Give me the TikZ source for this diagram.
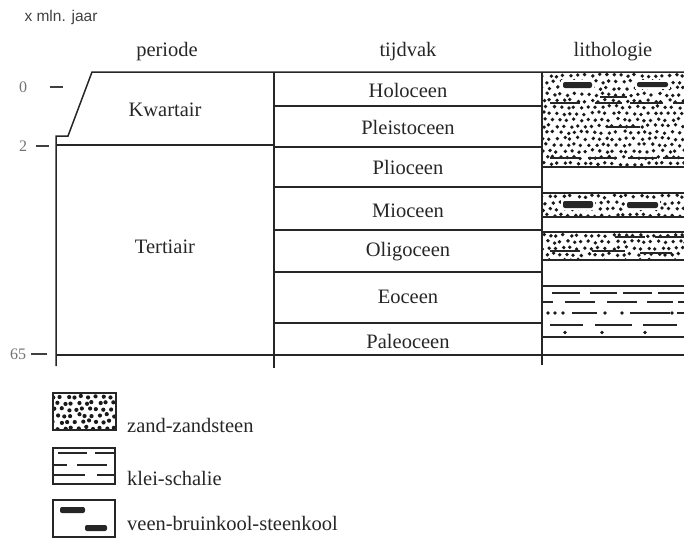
\documentclass[tikz,border=0pt]{standalone}
\usepackage{fontspec}
\setmainfont{Liberation Serif}
\newfontfamily\labelsans{Liberation Sans}
\begin{document}
\begin{tikzpicture}[x=1pt,y=-1pt,
  frame/.style={line width=1.5pt,draw=black!85},
  thin frame/.style={line width=1.3pt,draw=black!85},
  word/.style={inner sep=0pt,font=\fontsize{20.5}{24}\selectfont,text=black!85},
  age/.style={inner sep=0pt,font=\fontsize{16}{19}\selectfont,text=black!55},
  agetick/.style={line width=1.4pt,draw=black!75},
  dash line/.style={line width=1.6pt,draw=black!85},
  coal/.style={fill=black!85,rounded corners=2pt},
  grain/.style={fill=black!90}]
\useasboundingbox (0,0) rectangle (684,541);

% ---- sand pattern: jittered dots clipped to a box ----
\pgfmathsetseed{1701}
\newcommand\sanddots[5]{% x1 y1 x2 y2 radius
  \begin{scope}
    \clip (#1,#2) rectangle (#3,#4);
    \pgfmathsetmacro\nxd{int((#3-#1)/7)+1}
    \pgfmathsetmacro\nyd{int((#4-#2)/6.3)+1}
    \foreach \i in {0,...,\nxd}{
      \foreach \j in {0,...,\nyd}{
        \pgfmathsetmacro\px{#1+\i*7+mod(\j,2)*3.5+rand*1.6}
        \pgfmathsetmacro\py{#2+2.5+\j*6.3+rand*1.3}
        \fill[grain] (\px,\py) circle (#5);
      }}
  \end{scope}}

% ---- headings ----
\node[inner sep=0pt,font=\labelsans\fontsize{15.5}{18}\selectfont,text=black!75] (unit) at (61,17) {x mln. jaar};
\node[word] (hperiode) at (167,52) {periode};
\node[word] (htijdvak) at (408,52) {tijdvak};
\node[word] (hlitho) at (613,52) {lithologie};

% ---- age axis ----
\node[age] (a0) at (23,87) {0};
\node[age] (a2) at (23,146) {2};
\node[age] (a65) at (18,354) {65};
\coordinate (t0a) at (50,87);  \coordinate (t0b) at (63,87);
\coordinate (t2a) at (36,146); \coordinate (t2b) at (49,146);
\coordinate (t65a) at (31,354);\coordinate (t65b) at (47,354);
\draw[agetick] (t0a) -- (t0b);
\draw[agetick] (t2a) -- (t2b);
\draw[agetick] (t65a) -- (t65b);

% ---- period column ----
\draw[frame] (56,366) -- (56,136) -- (68,136) -- (92,72) -- (684,72);
\draw[frame] (56,145) -- (274,145);
\draw[frame] (56,355) -- (684,355);
\draw[frame] (274,72) -- (274,368);
\draw[frame] (542,72) -- (542,365);
\node[word] (kwartair) at (165,110) {Kwartair};
\node[word] (tertiair) at (165,247) {Tertiair};

% ---- epoch column ----
\foreach \yy in {106,147,187,230,272,323}
  \draw[frame] (274,\yy) -- (542,\yy);
\node[word] (holo) at (408,90) {Holoceen};
\node[word] (pleisto) at (408,127) {Pleistoceen};
\node[word] (plio) at (408,167) {Plioceen};
\node[word] (mio) at (408,211) {Mioceen};
\node[word] (oligo) at (408,252) {Oligoceen};
\node[word] (eo) at (408,297) {Eoceen};
\node[word] (paleo) at (408,341) {Paleoceen};

% ---- lithology column ----
% Quaternary / Pliocene sand with clay and coal
\sanddots{543}{73}{684}{166}{1.9pt}
\fill[white] (561,80) rectangle (594,90);
\fill[white] (635,80) rectangle (670,89);
\fill[coal] (563,82) rectangle (592,88);
\fill[coal] (637,82) rectangle (668,87);
\foreach \a/\b/\yy in {600/627/97, 550/580/103, 595/622/103, 630/663/103, 673/684/103,
                       608/640/127, 550/580/158, 588/617/158, 628/657/158, 663/684/158}
  \draw[dash line] (\a,\yy) -- (\b,\yy);
\draw[frame] (542,167) -- (684,167);

% Miocene sand with coal
\draw[frame] (542,193) -- (684,193);
\sanddots{543}{194}{684}{216}{1.9pt}
\fill[white] (561,199) rectangle (595,210);
\fill[white] (625,200) rectangle (660,210);
\fill[coal] (563,201) rectangle (593,208);
\fill[coal] (627,202) rectangle (658,208);
\draw[frame] (542,217) -- (684,217);

% Oligocene sand with clay
\draw[frame] (542,232) -- (684,232);
\sanddots{543}{233}{684}{259}{1.9pt}
\foreach \a/\b/\yy in {615/645/237, 655/684/237, 550/580/251, 592/625/251, 640/672/253}
  \draw[dash line] (\a,\yy) -- (\b,\yy);
\draw[frame] (542,260) -- (684,260);

% Eocene clay and shale
\draw[thin frame] (542,286) -- (684,286);
\foreach \a/\b/\yy in {552/580/293, 590/617/293, 623/652/293, 658/684/293,
                       543/553/302, 565/595/302, 607/637/302, 647/673/302, 678/684/302,
                       572/597/313, 630/670/313, 677/684/313,
                       550/583/325, 595/632/325, 643/677/325}
  \draw[dash line] (\a,\yy) -- (\b,\yy);
\foreach \xx in {548,555,563,605,622,672}
  \fill[grain] (\xx,313) circle (1.8pt);
\foreach \xx in {565,602,645}
  \fill[grain] (\xx,332.5) circle (1.8pt);
\draw[thin frame] (542,337) -- (684,337);

% ---- legend ----
\sanddots{54}{394}{115}{429}{2.1pt}
\draw[frame] (53,393) rectangle (116,430);
\node[word,anchor=west] (lsand) at (127,425) {zand-zandsteen};

\draw[thin frame] (53,448) rectangle (115,484);
\foreach \a/\b/\yy in {58/87/453, 95/115/453, 53/67/465, 77/107/465, 53/85/475, 97/115/475}
  \draw[dash line] (\a,\yy) -- (\b,\yy);
\node[word,anchor=west] (lclay) at (127,478) {klei-schalie};

\draw[thin frame] (53,500) rectangle (115,537);
\fill[coal] (60,507) rectangle (85,513);
\fill[coal] (85,525) rectangle (107,531);
\node[word,anchor=west] (lcoal) at (127,523) {veen-bruinkool-steenkool};
\end{tikzpicture}
\end{document}
